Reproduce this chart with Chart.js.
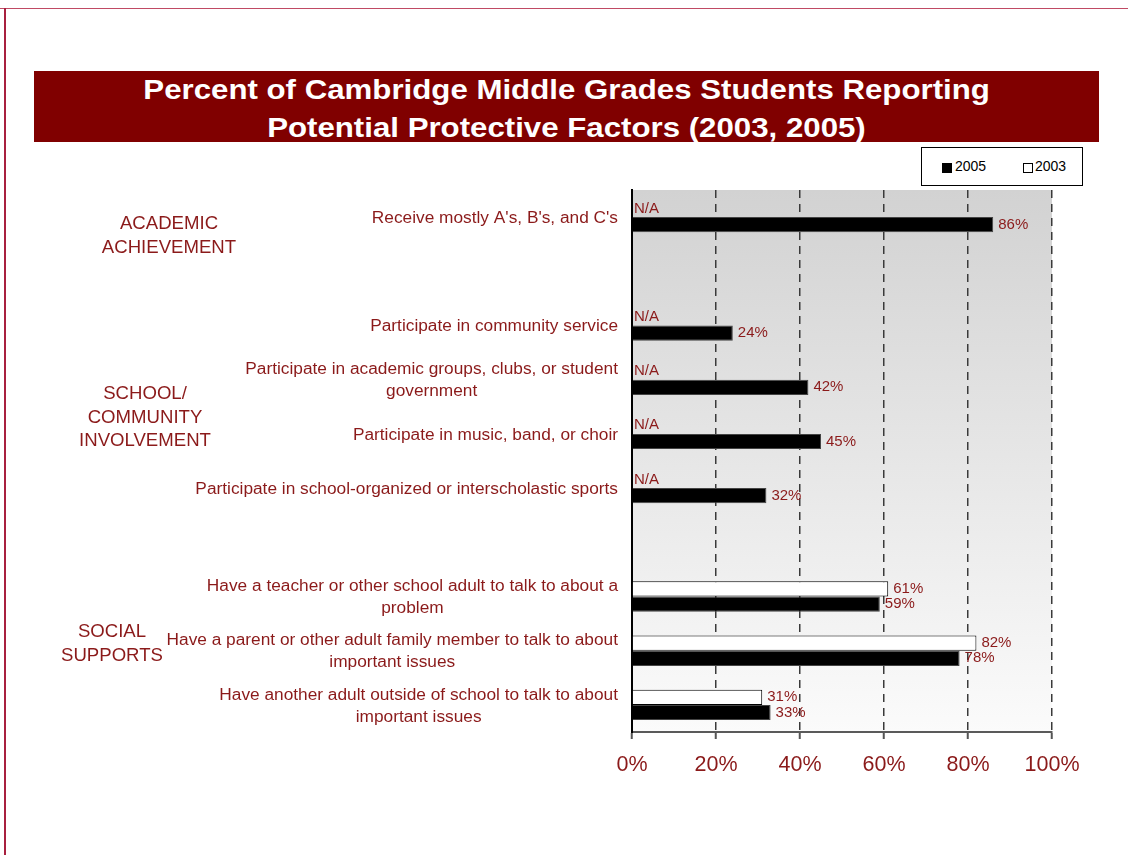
<!DOCTYPE html>
<html>
<head>
<meta charset="utf-8">
<script src="https://cdn.jsdelivr.net/npm/chart.js@4"></script>
<style>
  body { margin: 0; background: #fff; }
  #wrap { position: relative; width: 1128px; height: 855px; overflow: hidden; font-family: "Liberation Sans", Arial, sans-serif; }
  #topline { position: absolute; left: 0; top: 8px; width: 1128px; height: 1px; background: #c04a64; }
  #leftline { position: absolute; left: 4px; top: 8px; width: 2px; height: 847px; background: #a8203f; }
  #title { position: absolute; left: 34px; top: 71px; width: 1065px; height: 71px; background: #800000; color: #fff;
           font-weight: bold; font-size: 28px; line-height: 38px; text-align: center; }
  #title span { display: inline-block; transform: scaleX(1.115); transform-origin: center; white-space: nowrap; }
  #legend { position: absolute; left: 921px; top: 147px; width: 160px; height: 37px; border: 1.5px solid #000; background: #fff;
            font-size: 14px; color: #000; }
  #legend .sw { position: absolute; top: 15px; width: 8px; height: 8px; border: 1px solid #000; }
  #legend .tx { position: absolute; top: 10px; line-height: 16px; }
  canvas { position: absolute; left: 0; top: 0; }
</style>
</head>
<body>
<div id="wrap">
  <div id="topline"></div>
  <div id="leftline"></div>
  <div id="title"><span>Percent of Cambridge Middle Grades Students Reporting</span><br><span>Potential Protective Factors (2003, 2005)</span></div>
  <canvas id="c" width="1128" height="855"></canvas>
  <div id="legend">
    <span class="sw" style="left:20px;background:#000;"></span><span class="tx" style="left:33px;">2005</span>
    <span class="sw" style="left:101px;background:#fff;"></span><span class="tx" style="left:113px;">2003</span>
  </div>
</div>
<script>
const categories = [
  "Receive mostly A's, B's, and C's",
  "",
  "Participate in community service",
  ["Participate in academic groups, clubs, or student", "government"],
  "Participate in music, band, or choir",
  "Participate in school-organized or interscholastic sports",
  "",
  ["Have a teacher or other school adult to talk to about a", "problem"],
  ["Have a parent or other adult family member to talk to about", "important issues"],
  ["Have another adult outside of school to talk to about", "important issues"]
];
const values2005 = [86, null, 24, 42, 45, 32, null, 59, 78, 33];
const values2003 = [null, null, null, null, null, null, null, 61, 82, 31];
const notAvailable2003 = [true, false, true, true, true, true, false, false, false, false];
const xTickLabels = ["0%", "20%", "40%", "60%", "80%", "100%"];
const groupLabels = [
  { lines: ["ACADEMIC", "ACHIEVEMENT"], from: 0, to: 0, x: 169, dy: 19 },
  { lines: ["SCHOOL/", "COMMUNITY", "INVOLVEMENT"], from: 2, to: 5, x: 145, dy: 11 },
  { lines: ["SOCIAL", "SUPPORTS"], from: 7, to: 9, x: 112, dy: -7 }
];

const RED = "#8b1a1a";
const FONT = '"Liberation Sans", Arial, sans-serif';

const bgPlugin = {
  id: "bg",
  beforeDraw(chart) {
    const { ctx, chartArea: a } = chart;
    const g = ctx.createLinearGradient(0, a.top, 0, a.bottom);
    g.addColorStop(0, "#d2d2d2");
    g.addColorStop(1, "#fbfbfb");
    ctx.save();
    ctx.fillStyle = g;
    ctx.fillRect(a.left, a.top, a.right - a.left, a.bottom - a.top);
    ctx.restore();
  }
};

const valueLabelPlugin = {
  id: "valueLabels",
  afterDatasetsDraw(chart) {
    const { ctx } = chart;
    const xs = chart.scales.x;
    ctx.save();
    ctx.font = "15px " + FONT;
    ctx.fillStyle = RED;
    ctx.textAlign = "left";
    ctx.textBaseline = "middle";
    chart.data.datasets.forEach((ds, di) => {
      const meta = chart.getDatasetMeta(di);
      meta.data.forEach((el, i) => {
        const v = ds.data[i];
        if (v !== null && v !== undefined) {
          ctx.fillText(v + "%", el.x + 5, el.y);
        } else if (ds.na && ds.na[i]) {
          ctx.fillText("N/A", xs.getPixelForValue(0) + 2, el.y - 1);
        }
      });
    });
    ctx.restore();
  }
};

const catLabelPlugin = {
  id: "catLabels",
  afterDraw(chart) {
    const { ctx } = chart;
    const ys = chart.scales.y;
    const rightEdge = chart.chartArea.left - 14;
    const lh = 22;
    ctx.save();
    ctx.fillStyle = RED;
    ctx.textBaseline = "middle";
    ctx.textAlign = "center";
    ctx.font = "17.3px " + FONT;
    categories.forEach((lab, i) => {
      const lines = Array.isArray(lab) ? lab : [lab];
      if (!lines[0]) return;
      const w = Math.max(...lines.map(l => ctx.measureText(l).width));
      const cx = rightEdge - w / 2;
      const yc = ys.getPixelForValue(i) + 1;
      const y0 = yc - (lines.length - 1) * lh / 2;
      lines.forEach((l, k) => ctx.fillText(l, cx, y0 + k * lh));
    });
    ctx.font = "18.6px " + FONT;
    groupLabels.forEach(g => {
      const yc = (ys.getPixelForValue(g.from) + ys.getPixelForValue(g.to)) / 2 + g.dy;
      const y0 = yc - (g.lines.length - 1) * 23.5 / 2;
      g.lines.forEach((l, k) => ctx.fillText(l, g.x, y0 + k * 23.5));
    });
    ctx.restore();
  }
};

new Chart(document.getElementById("c"), {
  type: "bar",
  data: {
    labels: categories,
    datasets: [
      { label: "2003", data: values2003, na: notAvailable2003, backgroundColor: "#ffffff", borderColor: "#000000", borderWidth: 1,
        categoryPercentage: 0.56, barPercentage: 1.0 },
      { label: "2005", data: values2005, backgroundColor: "#000000", borderColor: "#444444", borderWidth: 1,
        categoryPercentage: 0.56, barPercentage: 1.0 }
    ]
  },
  options: {
    indexAxis: "y",
    responsive: false,
    animation: false,
    devicePixelRatio: 1,
    layout: { padding: { top: 190, right: 76, left: 0, bottom: 0 } },
    plugins: { legend: { display: false }, tooltip: { enabled: false }, title: { display: false } },
    scales: {
      x: {
        min: 0, max: 100,
        afterFit(s) { s.height = 855 - 732 - 0; },
        ticks: {
          stepSize: 20,
          color: RED,
          font: { family: FONT, size: 21.5 },
          padding: 13,
          callback: (v, i) => xTickLabels[i]
        },
        grid: {
          color: ctx => (ctx.tick && ctx.tick.value === 0) ? "rgba(0,0,0,0)" : "#3a3a3a",
          lineWidth: 1.5,
          tickLength: 7,
          tickColor: "#555555",
          tickWidth: 2,
          tickBorderDash: []
        },
        border: { display: true, color: "#5a5a5a", width: 2, dash: [8, 6] }
      },
      y: {
        type: "category",
        afterFit(s) { s.width = 632; },
        ticks: { display: false },
        grid: { display: false },
        border: { display: true, color: "#000000", width: 2 }
      }
    }
  },
  plugins: [bgPlugin, valueLabelPlugin, catLabelPlugin]
});
</script>
</body>
</html>
